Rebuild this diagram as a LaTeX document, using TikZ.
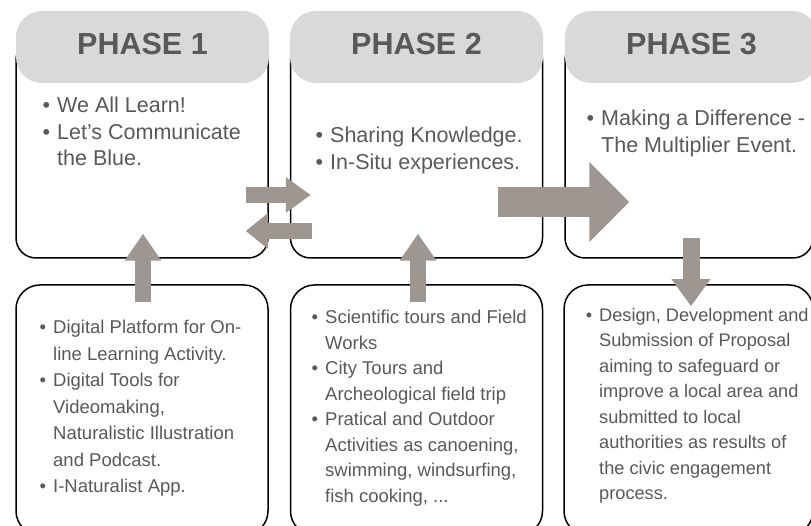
\documentclass[tikz,border=0pt]{standalone}
\usepackage{fontspec}
\setmainfont{Liberation Sans}
\usepackage{xcolor}
\usetikzlibrary{positioning, calc, arrows.meta}

\definecolor{headgrey}{RGB}{217,217,217}
\definecolor{textgrey}{RGB}{89,89,89}
\definecolor{arrowgrey}{RGB}{158,150,145}

% bullet hanging in the left margin
\newcommand{\itm}{\makebox[0pt][r]{\textbullet\hspace{7pt}}}

\tikzset{
    phasebox/.style={draw, line width=1.5pt, fill=white, rounded corners=20pt,
        minimum width=252pt, minimum height=218pt, inner sep=0pt},
    actbox/.style={draw, line width=1.5pt, fill=white, rounded corners=24pt,
        minimum width=252pt, minimum height=250pt, inner sep=0pt},
    phasehead/.style={fill=headgrey, rounded corners=26pt, minimum width=253pt,
        minimum height=72pt, inner sep=0pt, text=textgrey, text depth=6pt,
        font=\fontsize{30.5}{36}\selectfont\bfseries},
    toptext/.style={anchor=north west, inner sep=0pt, align=left, text=textgrey,
        font=\fontsize{21.5}{26.5}\selectfont},
    bottext/.style={anchor=north west, inner sep=0pt, align=left, text=textgrey,
        font=\fontsize{18.5}{25.5}\selectfont},
    fatarrow/.style={draw=arrowgrey, line width=16pt,
        -{Triangle[width=35pt,length=27pt,color=arrowgrey]}}
}

\begin{document}
\begin{tikzpicture}[x=1pt, y=1pt]
    \useasboundingbox (0,0) rectangle (811,526);
    \clip (0,0) rectangle (811,526);

    % Phase boxes
    \node[phasebox] (b1) at (142,377) {};
    \node[phasebox] (b2) at (416.5,377) {};
    \node[phasebox, minimum width=248pt] (b3) at (689,377) {};

    % Phase headers
    \foreach \x/\n in {142.5/1, 416.5/2, 691.5/3} {
        \node[phasehead] (h\n) at (\x,479) {PHASE \n};
    }

    % Activity boxes
    \node[actbox] (a1) at (142,116) {};
    \node[actbox] (a2) at (416.5,116) {};
    \node[actbox, minimum width=249pt] (a3) at (688.5,116) {};

    % Phase texts
    \node[toptext] (t1) at (57,429) {\itm We All Learn!\\ \itm Let's Communicate\\ the Blue.};
    \node[toptext] (t2) at (330,399) {\itm Sharing Knowledge.\\ \itm In-Situ experiences.};
    \node[toptext] (t3) at (601,416) {\itm Making a Difference -\\ The Multiplier Event.};

    % Activity texts
    \node[bottext, font=\fontsize{18.5}{26.5}\selectfont] (s1) at (53,206) {\itm Digital Platform for On-\\
        line Learning Activity.\\ \itm Digital Tools for\\ Videomaking,\\
        Naturalistic Illustration\\ and Podcast.\\ \itm I-Naturalist App.};
    \node[bottext] (s2) at (325,216) {\itm Scientific tours and Field\\ Works\\
        \itm City Tours and\\ Archeological field trip\\ \itm Pratical and Outdoor\\
        Activities as canoening,\\ swimming, windsurfing,\\ fish cooking, ...};
    \node[bottext, font=\fontsize{18.2}{25.5}\selectfont] (s3) at (599,218) {\itm Design, Development and\\
        Submission of Proposal\\ aiming to safeguard or\\ improve a local area and\\
        submitted to local\\ authorities as results of\\ the civic engagement\\ process.};

    % Arrows
    \draw[fatarrow] ($(a1.north)+(1,-18)$) -- ($(b1.south)+(1,25)$);
    \draw[fatarrow] ($(a2.north)+(1.5,-18)$) -- ($(b2.south)+(1.5,25)$);
    \draw[fatarrow, -{Triangle[width=34pt,length=25pt,color=arrowgrey]}]
        ($(b1.east)+(-23,-46)$) -- ($(b2.west)+(21,-46)$);
    \draw[fatarrow, -{Triangle[width=34pt,length=22pt,color=arrowgrey]}]
        ($(b2.west)+(22,-82)$) -- ($(b1.east)+(-23,-82)$);
    \draw[fatarrow, line width=30pt, -{Triangle[width=78pt,length=40pt,color=arrowgrey]}]
        ($(b2.east)+(-45,-53)$) -- ($(b3.west)+(65,-53)$);
    \draw[fatarrow, line width=17pt, -{Triangle[width=37pt,length=27pt,color=arrowgrey]}]
        ($(b3.south)+(2,21)$) -- ($(a3.north)+(2.5,-22)$);
\end{tikzpicture}
\end{document}
